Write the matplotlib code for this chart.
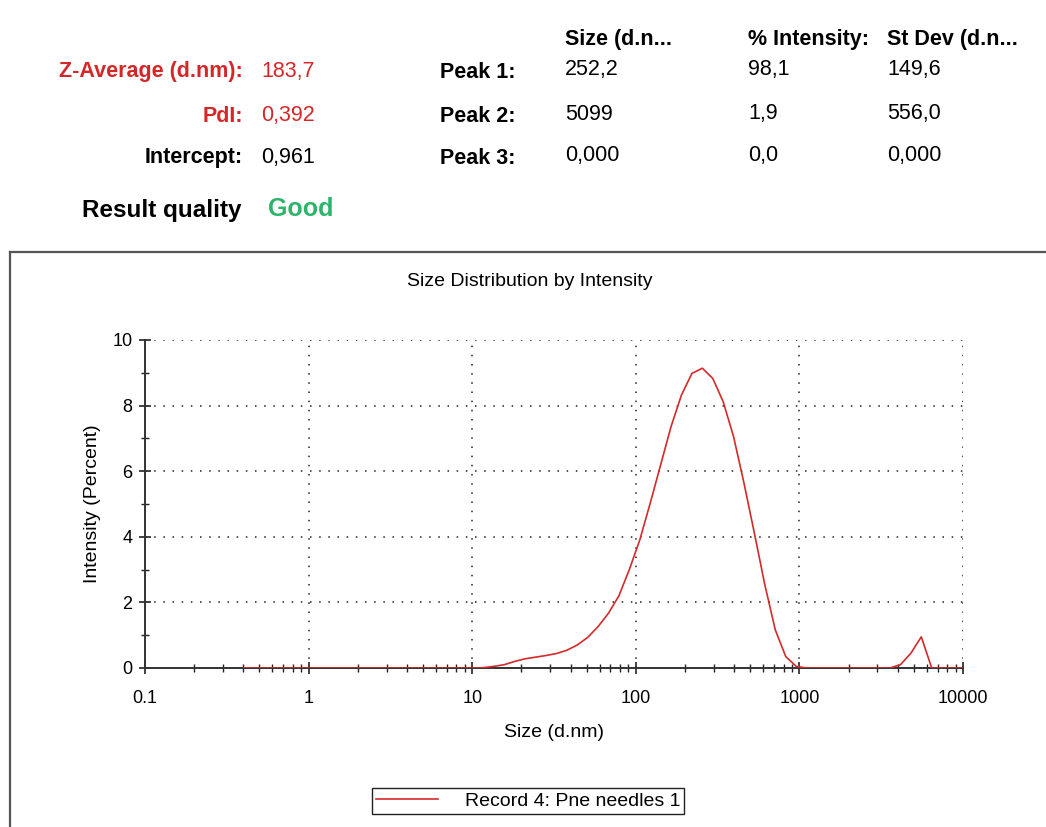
import matplotlib.pyplot as plt
from matplotlib.lines import Line2D
from matplotlib.ticker import LogLocator, FixedLocator, NullFormatter

plt.rcParams['font.family'] = ['Liberation Sans', 'DejaVu Sans']

# size classes (d.nm) and intensity (%) per class
sizes = [0.4, 0.4632, 0.5365, 0.6213, 0.7195, 0.8332, 0.9649, 1.117, 1.294, 1.499,
         1.736, 2.010, 2.328, 2.696, 3.122, 3.615, 4.187, 4.849, 5.615, 6.503,
         7.531, 8.721, 10.10, 11.70, 13.54, 15.69, 18.17, 21.04, 24.36, 28.21,
         32.67, 37.84, 43.82, 50.75, 58.77, 68.06, 78.82, 91.28, 105.7, 122.4,
         141.8, 164.2, 190.1, 220.2, 255.0, 295.3, 342.0, 396.1, 458.7, 531.2,
         615.1, 712.4, 825.0, 955.4, 1106, 1281, 1484, 1718, 1990, 2305,
         2669, 3091, 3580, 4145, 4801, 5560, 6439, 7456, 8635, 10000]
intensity = [0.0, 0.0, 0.0, 0.0, 0.0, 0.0, 0.0, 0.0, 0.0, 0.0,
             0.0, 0.0, 0.0, 0.0, 0.0, 0.0, 0.0, 0.0, 0.0, 0.0,
             0.0, 0.0, 0.0, 0.01, 0.05, 0.1, 0.2, 0.28, 0.33, 0.38,
             0.44, 0.54, 0.70, 0.93, 1.26, 1.67, 2.2, 3.0, 3.9, 5.02,
             6.19, 7.36, 8.32, 8.98, 9.14, 8.83, 8.12, 7.05, 5.63, 4.1,
             2.53, 1.16, 0.35, 0.05, 0.0, 0.0, 0.0, 0.0, 0.0, 0.0,
             0.0, 0.0, 0.0, 0.1, 0.45, 0.95, 0.0, 0.0, 0.0, 0.0]

# results table
summary_labels = ['Z-Average (d.nm):', 'PdI:', 'Intercept:']
summary_values = ['183,7', '0,392', '0,961']
summary_colors = ['#d62728', '#d62728', 'black']
peak_labels = ['Peak 1:', 'Peak 2:', 'Peak 3:']
peak_headers = ['Size (d.n...', '% Intensity:', 'St Dev (d.n...']
peak_size = ['252,2', '5099', '0,000']
peak_int = ['98,1', '1,9', '0,0']
peak_sd = ['149,6', '556,0', '0,000']

W, H = 1046, 827
fig = plt.figure(figsize=(W / 100, H / 100), dpi=100)

def fx(px):
    return px / W

def fy(py):
    return 1 - py / H

red = '#d42a2a'
fs = 15.5
row_y = [72, 116, 158]
col_x = [565, 748, 887]
for i in range(3):
    fig.text(fx(243), fy(row_y[i]), summary_labels[i], ha='right', va='center',
             fontsize=fs, fontweight='bold', color=summary_colors[i])
    fig.text(fx(261), fy(row_y[i]), summary_values[i], ha='left', va='center',
             fontsize=fs, color=summary_colors[i])
    fig.text(fx(515), fy(row_y[i]), peak_labels[i], ha='right', va='center',
             fontsize=fs, fontweight='bold')
    for x, col in zip(col_x, [peak_size, peak_int, peak_sd]):
        fig.text(fx(x), fy(row_y[i] - 2), col[i], ha='left', va='center', fontsize=fs)

for x, h in zip(col_x, peak_headers):
    fig.text(fx(x), fy(40), h, ha='left', va='center', fontsize=fs, fontweight='bold')

fig.text(fx(242), fy(211), 'Result quality', ha='right', va='center',
         fontsize=17.5, fontweight='bold')
fig.text(fx(268), fy(209), 'Good', ha='left', va='center',
         fontsize=18, fontweight='bold', color='#2bb56a')

# outer report frame (runs off the page to the right and bottom)
fig.add_artist(Line2D([fx(10), 1], [fy(252), fy(252)], color='#555555', lw=1.6))
fig.add_artist(Line2D([fx(10), fx(10)], [0, fy(252)], color='#555555', lw=1.6))

fig.text(fx(530), fy(282), 'Size Distribution by Intensity', ha='center', va='center',
         fontsize=14)

ax = fig.add_axes([fx(145), fy(668), fx(963) - fx(145), fy(340) - fy(668)])
ax.plot(sizes, intensity, color=red, lw=1.2, label='Record 4: Pne needles 1', zorder=3)
ax.set_xscale('log')
ax.set_xlim(0.1, 10000)
ax.set_ylim(0, 10)

ax.xaxis.set_major_locator(FixedLocator([0.1, 1, 10, 100, 1000, 10000]))
ax.set_xticklabels(['0.1', '1', '10', '100', '1000', '10000'])
ax.xaxis.set_minor_locator(LogLocator(base=10, subs=range(2, 10)))
ax.xaxis.set_minor_formatter(NullFormatter())
ax.set_yticks([0, 2, 4, 6, 8, 10])
ax.set_yticks([1, 3, 5, 7, 9], minor=True)

ax.tick_params(which='both', direction='inout', color='#222222', labelsize=13)
ax.tick_params(which='major', length=8, width=1.2)
ax.tick_params(which='minor', length=6, width=1.0)
ax.tick_params(axis='x', pad=12)
ax.tick_params(axis='y', pad=5)

for s in ['top', 'right']:
    ax.spines[s].set_visible(False)
for s in ['left', 'bottom']:
    ax.spines[s].set_color('#333333')
    ax.spines[s].set_linewidth(1.4)

ax.grid(True, which='major', color='#222222', linestyle=(0, (1, 5)), lw=1.1)
ax.set_axisbelow(True)

ax.set_xlabel('Size (d.nm)', fontsize=14, labelpad=12)
ax.set_ylabel('Intensity (Percent)', fontsize=14, labelpad=8)

fig.legend(loc='center', bbox_to_anchor=(fx(528), fy(801)), fontsize=14,
           fancybox=False, edgecolor='#222222', framealpha=1, handlelength=3.2,
           borderpad=0.2, handletextpad=1.4, borderaxespad=0)

fig.savefig('out.png', dpi=100)
